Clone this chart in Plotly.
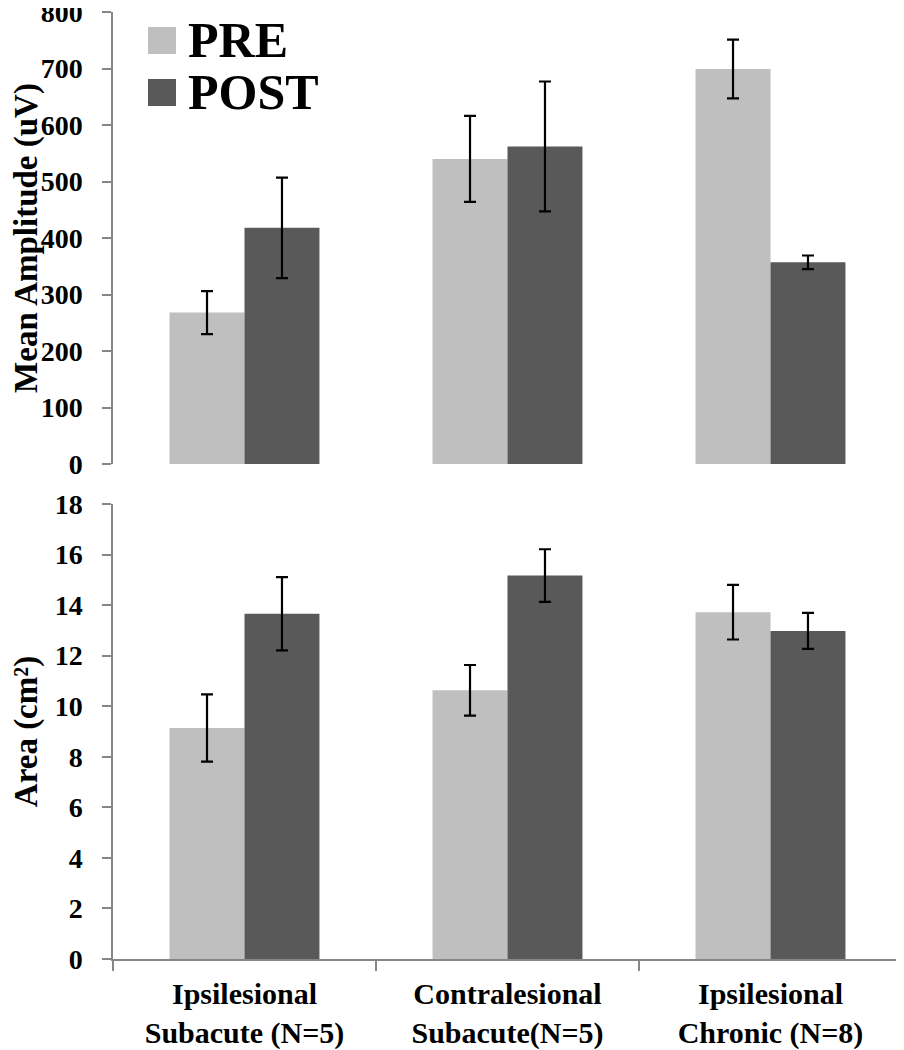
import plotly.graph_objects as go

categories = ["Ipsilesional<br>Subacute (N=5)", "Contralesional<br>Subacute(N=5)", "Ipsilesional<br>Chronic (N=8)"]
series_names = ["PRE", "POST"]

amp_pre = [268, 540, 699]
amp_pre_err = [38, 76, 52]
amp_post = [418, 562, 357]
amp_post_err = [89, 115, 12]

area_pre = [9.14, 10.63, 13.72]
area_pre_err = [1.33, 1.0, 1.08]
area_post = [13.66, 15.17, 12.98]
area_post_err = [1.45, 1.04, 0.71]

amp_ticks = list(range(0, 801, 100))
area_ticks = list(range(0, 19, 2))

colors = {"PRE": "#BFBFBF", "POST": "#595959"}
FONT = "Liberation Serif"
AXIS_COLOR = "#868686"

OFF = 8  # page body margin
W, H = 904 - OFF, 1050 - OFF
# target screen coordinates
X_L, X_R = 113, 902
Y_T, Y_B = 12, 959
ML, MR = X_L - OFF, (W + OFF) - X_R
MT, MB = Y_T - OFF, (H + OFF) - Y_B
PW = X_R - X_L
PH = Y_B - Y_T


def py(p):
    return (Y_B - p) / PH


def px(p):
    return (p - X_L) / PW


fig = go.Figure()

data_sets = [
    ("x", "y", amp_pre, amp_pre_err, amp_post, amp_post_err),
    ("x2", "y2", area_pre, area_pre_err, area_post, area_post_err),
]
for xa, ya, pre, pre_e, post, post_e in data_sets:
    for name, vals, errs in [("PRE", pre, pre_e), ("POST", post, post_e)]:
        fig.add_trace(go.Bar(
            x=categories, y=vals, name=name, xaxis=xa, yaxis=ya,
            marker=dict(color=colors[name], line=dict(width=0)),
            error_y=dict(type="data", array=errs, visible=True,
                         color="black", thickness=2.2, width=6),
            showlegend=False,
        ))

tickfont = dict(family=FONT, size=28, color="black", weight="bold")
titlefont = dict(family=FONT, size=33, color="black", weight="bold")
catfont = dict(family=FONT, size=30, color="black", weight="bold")

fig.update_layout(
    width=W, height=H,
    margin=dict(l=ML, r=MR, t=MT, b=MB, autoexpand=False),
    paper_bgcolor="white", plot_bgcolor="white",
    barmode="group", bargap=0.43, bargroupgap=0,
    xaxis=dict(domain=[0, 1], anchor="y", range=[-0.5, 2.5],
               showticklabels=False, showline=False, ticks="",
               showgrid=False, zeroline=False, matches="x2", automargin=False),
    yaxis=dict(domain=[py(464), 1], anchor="x", range=[0, 800],
               tickvals=amp_ticks, showgrid=False, zeroline=False,
               showline=True, linecolor=AXIS_COLOR, linewidth=1.5,
               ticks="outside", ticklen=9, tickcolor=AXIS_COLOR, tickwidth=1.5,
               tickfont=tickfont, ticklabelstandoff=14, automargin=False,
               ticklabeloverflow="allow",
               title=dict(text="Mean Amplitude (uV)", font=titlefont, standoff=26)),
    xaxis2=dict(domain=[0, 1], anchor="y2", range=[-0.5, 2.5],
                showline=True, linecolor=AXIS_COLOR, linewidth=1.5,
                ticks="outside", tickson="boundaries", ticklen=10,
                tickcolor=AXIS_COLOR, tickwidth=1.5, automargin=False,
                tickfont=catfont, ticklabelstandoff=7,
                ticklabeloverflow="allow",
                showgrid=False, zeroline=False),
    yaxis2=dict(domain=[0, py(504)], anchor="x2", range=[0, 18],
                tickvals=area_ticks, showgrid=False, zeroline=False,
                showline=True, linecolor=AXIS_COLOR, linewidth=1.5,
                ticks="outside", ticklen=9, tickcolor=AXIS_COLOR, tickwidth=1.5,
                tickfont=tickfont, ticklabelstandoff=14, automargin=False,
                ticklabeloverflow="allow",
                title=dict(text="Area (cm²)", font=titlefont, standoff=26)),
)

# Legend drawn manually (large swatches)
for i, name in enumerate(series_names):
    top = 27 + i * 52
    fig.add_shape(type="rect", xref="paper", yref="paper",
                  x0=px(148), x1=px(176), y0=py(top + 27), y1=py(top),
                  fillcolor=colors[name], line=dict(width=0))
    fig.add_annotation(xref="paper", yref="paper", x=px(186), y=py(top + 13),
                       xanchor="left", yanchor="middle", showarrow=False,
                       text=name, font=dict(family=FONT, size=50, color="black", weight="bold"))

fig.write_html("out.html")
